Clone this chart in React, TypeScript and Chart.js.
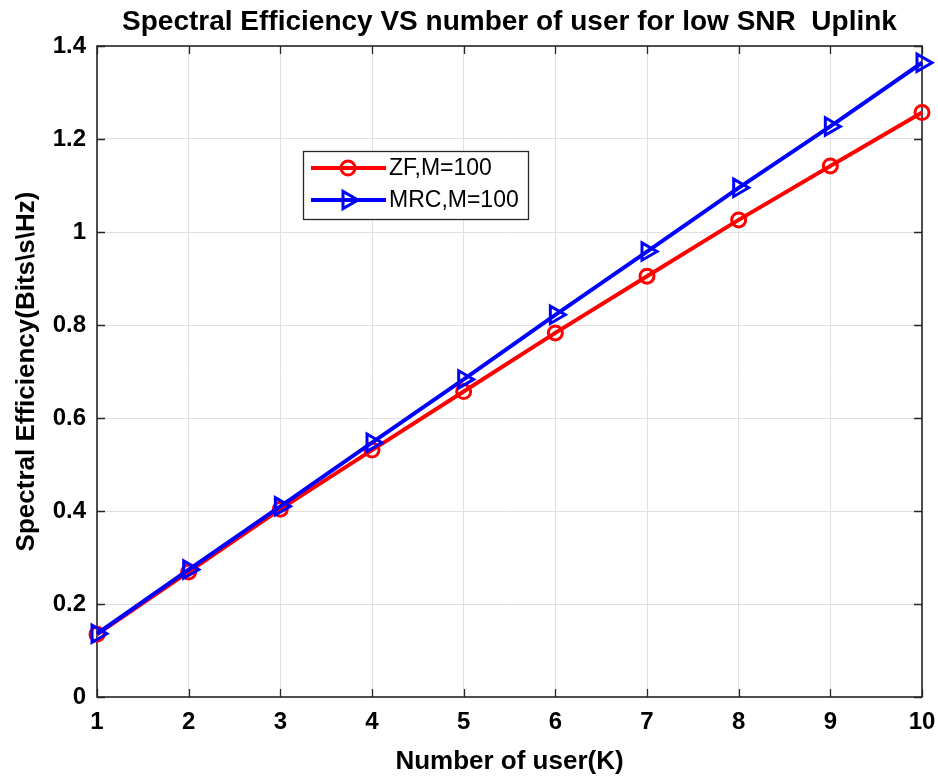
import React, { useEffect, useRef } from "react";
import { Chart, registerables } from "chart.js";

Chart.register(...registerables);

const users = [1, 2, 3, 4, 5, 6, 7, 8, 9, 10];
const zfValues = [0.135, 0.269, 0.404, 0.531, 0.657, 0.783, 0.905, 1.026, 1.142, 1.257];
const mrcValues = [0.136, 0.274, 0.410, 0.547, 0.683, 0.822, 0.958, 1.095, 1.227, 1.364];
const seriesNames = ["ZF,M=100", "MRC,M=100"];
const seriesColors = ["#ff0000", "#0000ff"];
const titleText = "Spectral Efficiency VS number of user for low SNR  Uplink";
const xLabel = "Number of user(K)";
const yLabel = "Spectral Efficiency(Bits\\s\\Hz)";
const yMin = 0;
const yMax = 1.4;
const yStep = 0.2;

const FONT = "'Liberation Sans', Arial, sans-serif";
const AXIS_COLOR = "#262626";

function drawCircle(ctx: CanvasRenderingContext2D, x: number, y: number, r: number, color: string) {
  ctx.save();
  ctx.strokeStyle = color;
  ctx.lineWidth = 3;
  ctx.beginPath();
  ctx.arc(x, y, r, 0, Math.PI * 2);
  ctx.stroke();
  ctx.restore();
}

function drawRightTriangle(ctx: CanvasRenderingContext2D, x: number, y: number, r: number, color: string) {
  ctx.save();
  ctx.strokeStyle = color;
  ctx.lineWidth = 3;
  ctx.lineJoin = "miter";
  ctx.beginPath();
  ctx.moveTo(x + r, y);
  ctx.lineTo(x - r * 0.5, y - r * 0.866);
  ctx.lineTo(x - r * 0.5, y + r * 0.866);
  ctx.closePath();
  ctx.stroke();
  ctx.restore();
}

const framePlugin = {
  id: "matlabFrame",
  beforeDatasetsDraw(chart: any) {
    const { ctx, chartArea } = chart;
    const { left, right, top, bottom } = chartArea;
    const xs = chart.scales.x;
    const ys = chart.scales.y;
    ctx.save();
    ctx.strokeStyle = AXIS_COLOR;
    ctx.lineWidth = 1.3;
    const tl = 8;
    ctx.beginPath();
    xs.ticks.forEach((t: any) => {
      const px = Math.round(xs.getPixelForValue(t.value)) + 0.5;
      ctx.moveTo(px, bottom);
      ctx.lineTo(px, bottom - tl);
      ctx.moveTo(px, top);
      ctx.lineTo(px, top + tl);
    });
    ys.ticks.forEach((t: any) => {
      const py = Math.round(ys.getPixelForValue(t.value)) + 0.5;
      ctx.moveTo(left, py);
      ctx.lineTo(left + tl, py);
      ctx.moveTo(right, py);
      ctx.lineTo(right - tl, py);
    });
    ctx.stroke();
    ctx.lineWidth = 1.6;
    ctx.strokeRect(left, top, right - left, bottom - top);
    ctx.restore();
  },
  afterDraw(chart: any) {
    const { ctx, chartArea } = chart;
    ctx.save();
    ctx.fillStyle = "#000000";
    ctx.font = `bold 28px ${FONT}`;
    ctx.textAlign = "center";
    ctx.textBaseline = "middle";
    ctx.fillText(titleText, (chartArea.left + chartArea.right) / 2, 22);
    ctx.restore();

    const bx = 303;
    const by = 151;
    const bw = 225;
    const bh = 68;
    ctx.save();
    ctx.fillStyle = "#ffffff";
    ctx.fillRect(bx, by, bw, bh);
    ctx.strokeStyle = AXIS_COLOR;
    ctx.lineWidth = 1.3;
    ctx.strokeRect(bx + 0.5, by + 0.5, bw, bh);
    ctx.font = `23px ${FONT}`;
    ctx.textBaseline = "middle";
    ctx.textAlign = "left";
    seriesNames.forEach((name, i) => {
      const cy = by + 17 + i * 32;
      const color = seriesColors[i];
      ctx.strokeStyle = color;
      ctx.lineWidth = 4;
      ctx.beginPath();
      ctx.moveTo(bx + 8, cy);
      ctx.lineTo(bx + 83, cy);
      ctx.stroke();
      if (i === 0) drawCircle(ctx, bx + 45, cy, 7, color);
      else drawRightTriangle(ctx, bx + 45, cy, 10, color);
      ctx.fillStyle = "#000000";
      ctx.fillText(name, bx + 86, cy + 1);
    });
    ctx.restore();
  },
};

export default function App() {
  const canvasRef = useRef<HTMLCanvasElement | null>(null);

  useEffect(() => {
    const canvas = canvasRef.current;
    if (!canvas) return;
    const chart = new Chart(canvas, {
      type: "line",
      data: {
        datasets: [
          {
            label: seriesNames[0],
            data: users.map((u, i) => ({ x: u, y: zfValues[i] })),
            borderColor: seriesColors[0],
            backgroundColor: "transparent",
            borderWidth: 4,
            pointStyle: "circle",
            pointRadius: 7,
            pointBorderWidth: 3,
            pointBorderColor: seriesColors[0],
            pointBackgroundColor: "transparent",
            tension: 0,
            clip: false as any,
            order: 1,
          },
          {
            label: seriesNames[1],
            data: users.map((u, i) => ({ x: u, y: mrcValues[i] })),
            borderColor: seriesColors[1],
            backgroundColor: "transparent",
            borderWidth: 4,
            pointStyle: "triangle",
            pointRotation: 90,
            pointRadius: 10,
            pointBorderWidth: 3,
            pointBorderColor: seriesColors[1],
            pointBackgroundColor: "transparent",
            tension: 0,
            clip: false as any,
            order: 0,
          },
        ],
      },
      options: {
        animation: false,
        responsive: false,
        devicePixelRatio: 1,
        layout: { padding: { top: 46, right: 16, left: 0, bottom: 0 } },
        plugins: {
          legend: { display: false },
          title: { display: false },
          tooltip: { enabled: false },
        },
        scales: {
          x: {
            type: "linear",
            min: users[0],
            max: users[users.length - 1],
            ticks: {
              stepSize: 1,
              color: "#000000",
              padding: 11,
              font: { family: FONT, size: 24, weight: "bold" },
            },
            grid: { color: "#e0e0e0", lineWidth: 1, drawTicks: false },
            border: { display: false },
            title: {
              display: true,
              text: xLabel,
              color: "#000000",
              font: { family: FONT, size: 26, weight: "bold" },
              padding: { top: 4, bottom: 0 },
            },
            afterFit(scale: any) {
              scale.height = 80;
              scale.paddingRight = 16;
              scale.paddingLeft = 0;
            },
          },
          y: {
            type: "linear",
            min: yMin,
            max: yMax,
            ticks: {
              stepSize: yStep,
              color: "#000000",
              padding: 11,
              font: { family: FONT, size: 24, weight: "bold" },
              callback: (v: any) => String(Number(Number(v).toFixed(1))),
            },
            grid: { color: "#e0e0e0", lineWidth: 1, drawTicks: false },
            border: { display: false },
            title: {
              display: true,
              text: yLabel,
              color: "#000000",
              font: { family: FONT, size: 26, weight: "bold" },
              padding: { top: 11, bottom: 0 },
            },
            afterFit(scale: any) {
              scale.width = 97;
              scale.paddingTop = 0;
              scale.paddingBottom = 0;
            },
          },
        },
      },
      plugins: [framePlugin],
    });
    return () => chart.destroy();
  }, []);

  return (
    <div style={{ position: "absolute", left: 0, top: 0, width: 938, height: 777, background: "#ffffff" }}>
      <canvas ref={canvasRef} width={938} height={777} style={{ width: 938, height: 777, display: "block" }} />
    </div>
  );
}
